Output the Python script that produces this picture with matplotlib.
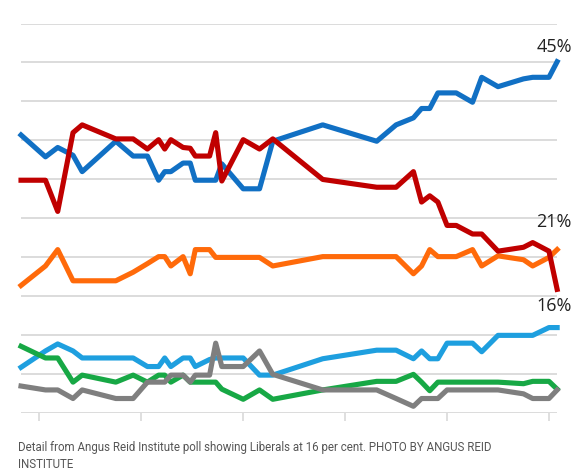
import numpy as np
import matplotlib
matplotlib.use("Agg")
import matplotlib.pyplot as plt

# poll positions (one unit = one tick interval on the x axis)
x = [-0.18, 0.06, 0.18, 0.33, 0.42, 0.75, 0.92, 1.06, 1.17, 1.23, 1.29, 1.41,
     1.48, 1.53, 1.67, 1.73, 1.79, 2.00, 2.16, 2.29, 2.78, 3.31, 3.50, 3.67,
     3.75, 3.83, 3.91, 4.00, 4.09, 4.25, 4.34, 4.50, 4.75, 4.84, 5.00, 5.08]

cpc = [35.7, 32.9, 34.1, 33.1, 31.0, 34.9, 33.0, 33.0, 29.9, 31.0, 31.0, 32.1,
       32.1, 29.9, 29.9, 29.9, 32.0, 28.8, 28.8, 34.9, 37.0, 34.9, 37.0, 37.9,
       39.1, 39.1, 41.1, 41.1, 41.1, 39.9, 43.1, 41.9, 42.9, 43.1, 43.1, 45.1]
lpc = [29.9, 29.9, 25.9, 36.0, 37.0, 35.2, 35.2, 33.9, 35.1, 33.9, 35.1, 34.1,
       34.0, 33.0, 33.0, 36.0, 29.8, 35.1, 33.9, 35.2, 30.0, 29.0, 29.0, 31.0,
       27.1, 27.9, 27.1, 24.1, 24.1, 23.0, 23.0, 20.8, 21.3, 21.9, 20.8, 15.9]
ndp = [16.4, 18.9, 21.0, 17.0, 17.0, 17.0, 18.1, 19.2, 20.1, 20.1, 18.9, 20.1,
       17.9, 21.0, 21.0, 20.0, 20.0, 20.0, 20.0, 18.9, 20.1, 20.1, 20.1, 17.9,
       18.9, 21.0, 20.1, 20.1, 20.1, 21.0, 18.9, 20.2, 19.7, 18.9, 20.0, 21.0]
bq = [5.9, 8.0, 8.9, 8.0, 7.1, 7.1, 7.1, 6.0, 6.0, 7.1, 6.0, 7.1,
      7.1, 6.0, 6.9, 7.1, 7.1, 7.1, 4.9, 4.9, 7.0, 8.1, 8.1, 7.0,
      8.0, 7.0, 7.0, 9.0, 9.0, 9.0, 7.9, 10.0, 10.0, 10.0, 11.0, 11.0]
green = [8.6, 7.1, 7.1, 4.0, 4.9, 4.0, 4.9, 4.0, 4.9, 4.9, 4.0, 4.9,
         4.0, 4.0, 4.0, 4.0, 3.1, 1.8, 3.0, 1.8, 3.0, 4.1, 4.1, 5.0,
         4.0, 2.9, 4.0, 4.0, 4.0, 4.0, 4.0, 4.0, 3.8, 4.1, 4.1, 3.1]
other = [3.5, 3.0, 3.0, 1.9, 3.0, 1.9, 1.9, 4.0, 4.0, 4.0, 4.9, 4.9,
         4.0, 4.9, 4.9, 9.0, 6.0, 6.0, 8.0, 5.0, 3.0, 3.0, 1.9, 0.9,
         1.9, 1.9, 1.9, 3.0, 3.0, 3.0, 3.0, 3.0, 2.5, 1.9, 1.9, 3.0]

caption = ("Detail from Angus Reid Institute poll showing Liberals at 16 per cent. PHOTO BY ANGUS REID\n"
           "INSTITUTE")

fig = plt.figure(figsize=(5.84, 4.77), dpi=100)
ax = fig.add_axes([0.036, 0.1314, 0.918, 0.8172])

series = [(bq, "#1e9fdf"), (green, "#17a845"), (other, "#7f7f7f"),
          (ndp, "#ff6a0a"), (cpc, "#1170c4"), (lpc, "#c00000")]
for vals, col in series:
    ax.plot(x, vals, color=col, lw=3.7, solid_joinstyle="round", clip_on=False, zorder=3)

ax.set_xlim(-0.18, 5.08)
ax.set_ylim(0, 50)
ax.set_yticks(np.arange(0, 51, 5))
ax.set_xticks(range(6))
ax.grid(axis="y", color="#d9d9d9", lw=1.3)
ax.tick_params(axis="y", length=0, labelleft=False)
ax.tick_params(axis="x", length=6, width=1.2, color="#d9d9d9", labelbottom=False)
for s in ax.spines.values():
    s.set_visible(False)

lab = dict(fontsize=13, color="#222222", family="Open Sans", ha="center", va="center")
ax.text(x[-1] - 0.03, cpc[-1] + 2.0, "45%", **lab)
ax.text(x[-1] - 0.03, ndp[-1] + 3.7, "21%", **lab)
ax.text(x[-1] - 0.03, lpc[-1] - 2.0, "16%", **lab)

fig.text(0.031, 0.045, caption, fontsize=8.3, color="#555555", family="Roboto",
         va="center", ha="left", linespacing=1.4)

fig.savefig("out.png", dpi=100)
